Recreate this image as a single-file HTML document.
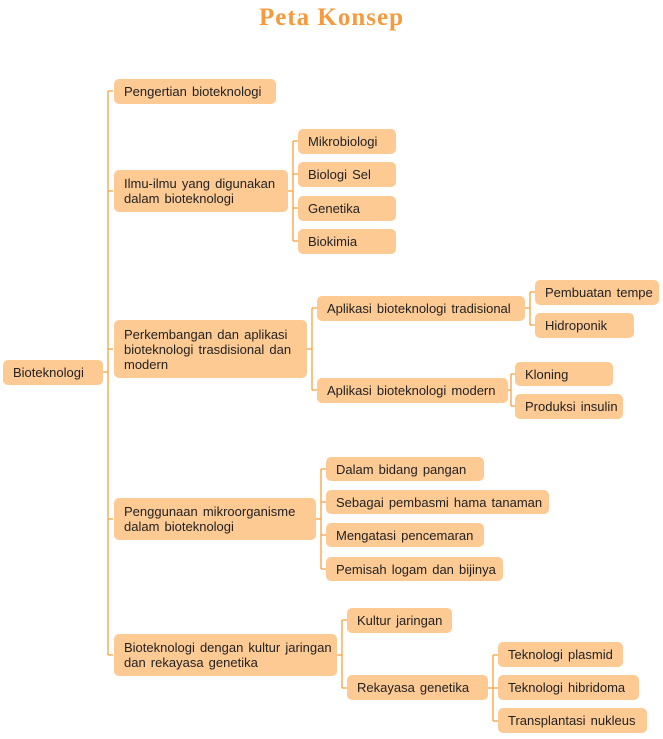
<!DOCTYPE html>
<html><head><meta charset="utf-8"><style>
body{margin:0;width:663px;height:739px;background:#fff;position:relative;overflow:hidden;font-family:"Liberation Sans",sans-serif;}
.t{position:absolute;left:0;width:663px;top:4px;text-align:center;font-family:"Liberation Serif",serif;font-weight:bold;font-size:25px;color:#f79a3e;letter-spacing:1px;}
.b{position:absolute;background:#fdca94;border-radius:5px;font-size:13px;color:#222;padding-left:10px;box-sizing:border-box;display:flex;align-items:center;line-height:15px;word-spacing:1.5px;white-space:nowrap;}
svg{position:absolute;left:0;top:0;}
</style></head><body>
<div class="t">Peta Konsep</div>
<svg width="663" height="739" stroke="#f7a040" stroke-width="1.3" fill="none">
<path d="M103 372H108M108 91V655M108 91H113M108 191H113M108 349H113M108 519H113M108 655H113"/>
<path d="M288 191H293M293 141V241M293 141H298M293 174H298M293 208H298M293 241H298"/>
<path d="M307 349H312M312 308V390M312 308H317M312 390H317"/>
<path d="M525 308H530M530 292V325M530 292H535M530 325H535"/>
<path d="M508 390H511M511 374V406M511 374H515M511 406H515"/>
<path d="M316 519H321M321 469V569M321 469H326M321 502H326M321 535H326M321 569H326"/>
<path d="M337 655H342M342 620V688M342 620H347M342 688H347"/>
<path d="M488 688H493M493 655V721M493 655H498M493 688H498M493 721H498"/>
</svg>
<div class="b" style="left:3px;top:360px;width:100px;height:25px">Bioteknologi</div>
<div class="b" style="left:114px;top:79px;width:162px;height:25px">Pengertian bioteknologi</div>
<div class="b" style="left:114px;top:170px;width:174px;height:42px;white-space:normal">Ilmu-ilmu yang digunakan dalam bioteknologi</div>
<div class="b" style="left:298px;top:129px;width:98px;height:25px">Mikrobiologi</div>
<div class="b" style="left:298px;top:162px;width:98px;height:25px">Biologi Sel</div>
<div class="b" style="left:298px;top:196px;width:98px;height:25px">Genetika</div>
<div class="b" style="left:298px;top:229px;width:98px;height:25px">Biokimia</div>
<div class="b" style="left:114px;top:320px;width:193px;height:58px;white-space:normal">Perkembangan dan aplikasi bioteknologi trasdisional dan modern</div>
<div class="b" style="left:317px;top:296px;width:208px;height:25px">Aplikasi bioteknologi tradisional</div>
<div class="b" style="left:535px;top:280px;width:124px;height:25px">Pembuatan tempe</div>
<div class="b" style="left:535px;top:313px;width:99px;height:25px">Hidroponik</div>
<div class="b" style="left:317px;top:378px;width:191px;height:25px">Aplikasi bioteknologi modern</div>
<div class="b" style="left:515px;top:362px;width:98px;height:24px">Kloning</div>
<div class="b" style="left:515px;top:394px;width:108px;height:25px">Produksi insulin</div>
<div class="b" style="left:114px;top:498px;width:202px;height:42px;white-space:normal">Penggunaan mikroorganisme dalam bioteknologi</div>
<div class="b" style="left:326px;top:457px;width:158px;height:24px">Dalam bidang pangan</div>
<div class="b" style="left:326px;top:490px;width:223px;height:24px">Sebagai pembasmi hama tanaman</div>
<div class="b" style="left:326px;top:523px;width:158px;height:24px">Mengatasi pencemaran</div>
<div class="b" style="left:326px;top:557px;width:177px;height:24px">Pemisah logam dan bijinya</div>
<div class="b" style="left:114px;top:634px;width:223px;height:42px;white-space:normal">Bioteknologi dengan kultur jaringan dan rekayasa genetika</div>
<div class="b" style="left:347px;top:608px;width:105px;height:25px">Kultur jaringan</div>
<div class="b" style="left:347px;top:675px;width:141px;height:25px">Rekayasa genetika</div>
<div class="b" style="left:498px;top:642px;width:125px;height:25px">Teknologi plasmid</div>
<div class="b" style="left:498px;top:675px;width:141px;height:25px">Teknologi hibridoma</div>
<div class="b" style="left:498px;top:708px;width:149px;height:25px">Transplantasi nukleus</div>
</body></html>
